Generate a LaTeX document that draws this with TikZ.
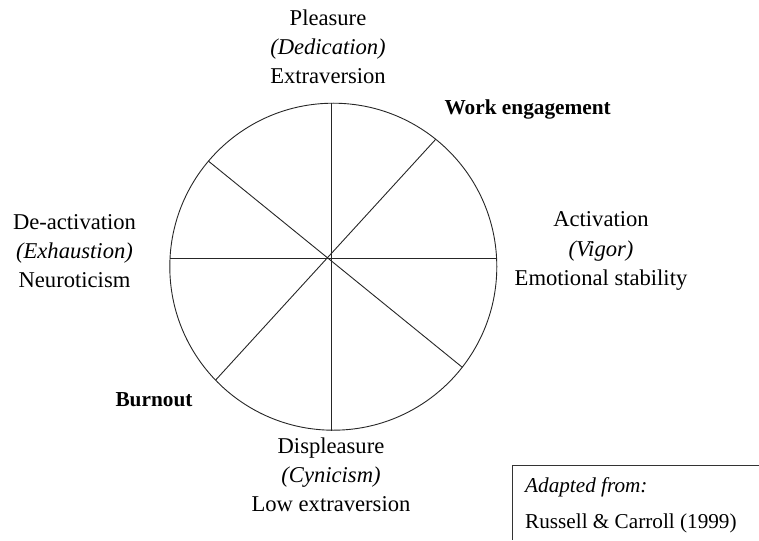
\documentclass[tikz,border=0pt]{standalone}
\usepackage{fontspec}
\setmainfont{Liberation Serif}
\begin{document}
\begin{tikzpicture}[x=1pt,y=-1pt,
  lbl/.style={align=center,inner sep=0pt,font=\fontsize{22.6}{29.2}\selectfont},
  bold/.style={inner sep=0pt,font=\fontsize{21.3}{26}\selectfont\bfseries},
  src/.style={inner sep=0pt,anchor=west,font=\fontsize{21.2}{26}\selectfont},
  ln/.style={line width=0.9pt,black!85}]
\useasboundingbox (0,0) rectangle (759,540);
% circle and spokes
\coordinate (c) at (333.3,266.7);
\draw[ln] (c) circle[radius=163.5pt];
\coordinate (vt) at (331,102.6);
\coordinate (vb) at (331,430.8);
\coordinate (hl) at (169.8,258.3);
\coordinate (hr) at (496.8,258.3);
\coordinate (ur) at (435.7,139.3);
\coordinate (ll) at (215.7,380);
\coordinate (ul) at (208.3,161);
\coordinate (lr) at (462.3,367.3);
\draw[ln] (vt) -- (vb);
\draw[ln] (hl) -- (hr);
\draw[ln] (ur) -- (ll);
\draw[ln] (ul) -- (lr);
% labels
\node[lbl] (top) at (328,46.5) {Pleasure\\\textit{(Dedication)}\\Extraversion};
\node[lbl] (left) at (74.5,251) {De-activation\\\textit{(Exhaustion)}\\Neuroticism};
\node[lbl] (right) at (601,251) {Activation\\\textit{(Vigor)}\\Emotional stability};
\node[lbl] (bottom) at (331,475) {Displeasure\\\textit{(Cynicism)}\\Low extraversion};
\node[bold] (we) at (527.7,109) {Work engagement};
\node[bold] (bo) at (154,399.5) {Burnout};
% source box
\coordinate (bxl) at (512,465);
\coordinate (bxr) at (759,465);
\coordinate (bxb) at (512,540);
\draw[line width=0.9pt,black!80] (bxr) -- (bxl) -- (bxb);
\node[src] (ad) at (525,487) {\textit{Adapted from:}};
\node[src] (rc) at (525,523) {Russell \& Carroll (1999)};
\end{tikzpicture}
\end{document}
